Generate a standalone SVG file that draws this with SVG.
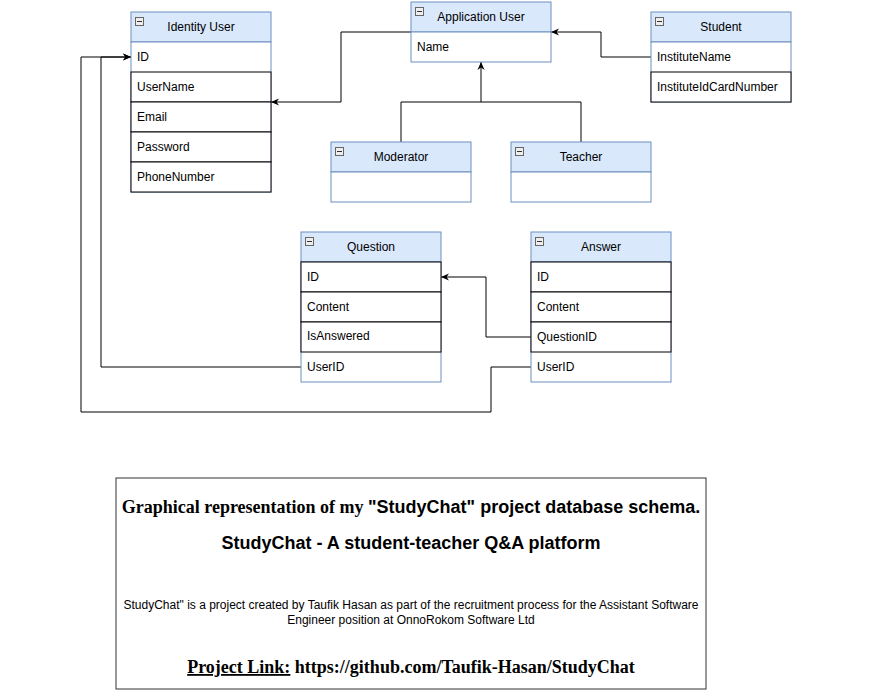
<svg xmlns="http://www.w3.org/2000/svg" width="879" height="699" viewBox="0 0 879 699">
<style>
.hdr{fill:#dae8fc;stroke:#6c8ebf;stroke-width:1}
.body{fill:#ffffff;stroke:#6c8ebf;stroke-width:1}
.row{fill:#ffffff;stroke:#000000;stroke-width:1}
.t{font-family:"Liberation Sans",Arial,sans-serif;font-size:12px;fill:#000}
.c{text-anchor:middle}
.ico{fill:#eeeeee;stroke:#666666;stroke-width:1}
.icl{stroke:#333333;stroke-width:1}
.con{fill:none;stroke:#000000;stroke-width:1}
</style>
<defs>
<marker id="arr" viewBox="0 0 10 10" refX="10" refY="5" markerWidth="8" markerHeight="8" markerUnits="userSpaceOnUse" orient="auto">
<path d="M0,0.5 L10,5 L0,9.5 L3,5 z" fill="#000"/>
</marker>
<g id="icon"><rect class="ico" x="0.5" y="0.5" width="8" height="8"/><line class="icl" x1="2" y1="4.5" x2="7" y2="4.5"/></g>
</defs>
<rect width="879" height="699" fill="#ffffff"/>

<g id="connectors">
<path class="con" d="M411,32 H341 V102 H271" marker-end="url(#arr)"/>
<path class="con" d="M651,57 H601 V32 H551" marker-end="url(#arr)"/>
<path class="con" d="M401,142 V102 H481 V62" marker-end="url(#arr)"/>
<path class="con" d="M581,142 V102 H481"/>
<path class="con" d="M531,337 H486 V277 H441" marker-end="url(#arr)"/>
<path class="con" d="M301,367 H101 V57 H131" marker-end="url(#arr)"/>
<path class="con" d="M531,367 H491 V412 H81 V57 H131" marker-end="url(#arr)"/>
</g>

<g id="identity-user">
<rect class="hdr" x="131" y="12" width="140" height="30"/>
<rect class="body" x="131" y="42" width="140" height="150"/>
<use href="#icon" x="135" y="17"/>
<text class="t c" x="201" y="31">Identity User</text>
<text class="t" x="137" y="61">ID</text>
<rect class="row" x="131" y="72" width="140" height="30"/>
<text class="t" x="137" y="91">UserName</text>
<rect class="row" x="131" y="102" width="140" height="30"/>
<text class="t" x="137" y="121">Email</text>
<rect class="row" x="131" y="132" width="140" height="30"/>
<text class="t" x="137" y="151">Password</text>
<rect class="row" x="131" y="162" width="140" height="30"/>
<text class="t" x="137" y="181">PhoneNumber</text>
</g>

<g id="application-user">
<rect class="hdr" x="411" y="2" width="140" height="30"/>
<rect class="body" x="411" y="32" width="140" height="30"/>
<use href="#icon" x="415" y="7"/>
<text class="t c" x="481" y="21">Application User</text>
<text class="t" x="417" y="51">Name</text>
</g>

<g id="student">
<rect class="hdr" x="651" y="12" width="140" height="30"/>
<rect class="body" x="651" y="42" width="140" height="60"/>
<use href="#icon" x="655" y="17"/>
<text class="t c" x="721" y="31">Student</text>
<text class="t" x="657" y="61">InstituteName</text>
<rect class="row" x="651" y="72" width="140" height="30"/>
<text class="t" x="657" y="91">InstituteIdCardNumber</text>
</g>

<g id="moderator">
<rect class="hdr" x="331" y="142" width="140" height="30"/>
<rect class="body" x="331" y="172" width="140" height="30"/>
<use href="#icon" x="335" y="147"/>
<text class="t c" x="401" y="161">Moderator</text>
</g>

<g id="teacher">
<rect class="hdr" x="511" y="142" width="140" height="30"/>
<rect class="body" x="511" y="172" width="140" height="30"/>
<use href="#icon" x="515" y="147"/>
<text class="t c" x="581" y="161">Teacher</text>
</g>

<g id="question">
<rect class="hdr" x="301" y="232" width="140" height="30"/>
<rect class="body" x="301" y="262" width="140" height="120"/>
<use href="#icon" x="305" y="237"/>
<text class="t c" x="371" y="251">Question</text>
<rect class="row" x="301" y="262" width="140" height="30"/>
<text class="t" x="307" y="281">ID</text>
<rect class="row" x="301" y="292" width="140" height="30"/>
<text class="t" x="307" y="311">Content</text>
<rect class="row" x="301" y="322" width="140" height="30"/>
<text class="t" x="307" y="340">IsAnswered</text>
<text class="t" x="307" y="371">UserID</text>
</g>

<g id="answer">
<rect class="hdr" x="531" y="232" width="140" height="30"/>
<rect class="body" x="531" y="262" width="140" height="120"/>
<use href="#icon" x="535" y="237"/>
<text class="t c" x="601" y="251">Answer</text>
<rect class="row" x="531" y="262" width="140" height="30"/>
<text class="t" x="537" y="281">ID</text>
<rect class="row" x="531" y="292" width="140" height="30"/>
<text class="t" x="537" y="311">Content</text>
<rect class="row" x="531" y="322" width="140" height="30"/>
<text class="t" x="537" y="341">QuestionID</text>
<text class="t" x="537" y="371">UserID</text>
</g>

<g id="info-box">
<rect x="116" y="478" width="590" height="211" fill="#ffffff" stroke="#333333" stroke-width="1"/>
<text x="411" y="513" text-anchor="middle" font-weight="bold" font-size="18" font-family="'Liberation Serif','Times New Roman',serif"><tspan>Graphical representation of my </tspan><tspan font-family="'Liberation Sans',Arial,sans-serif">"StudyChat" project database schema.</tspan></text>
<text x="411" y="549" text-anchor="middle" font-weight="bold" font-size="18" font-family="'Liberation Sans',Arial,sans-serif">StudyChat - A student-teacher Q&amp;A platform</text>
<text x="411" y="609" text-anchor="middle" font-size="12" font-family="'Liberation Sans',Arial,sans-serif">StudyChat" is a project created by Taufik Hasan as part of the recruitment process for the Assistant Software</text>
<text x="411" y="624" text-anchor="middle" font-size="12" font-family="'Liberation Sans',Arial,sans-serif">Engineer position at OnnoRokom Software Ltd</text>
<text x="411" y="673" text-anchor="middle" font-weight="bold" font-size="18" font-family="'Liberation Serif','Times New Roman',serif"><tspan text-decoration="underline">Project Link:</tspan> https://github.com/Taufik-Hasan/StudyChat</text>
</g>
</svg>
